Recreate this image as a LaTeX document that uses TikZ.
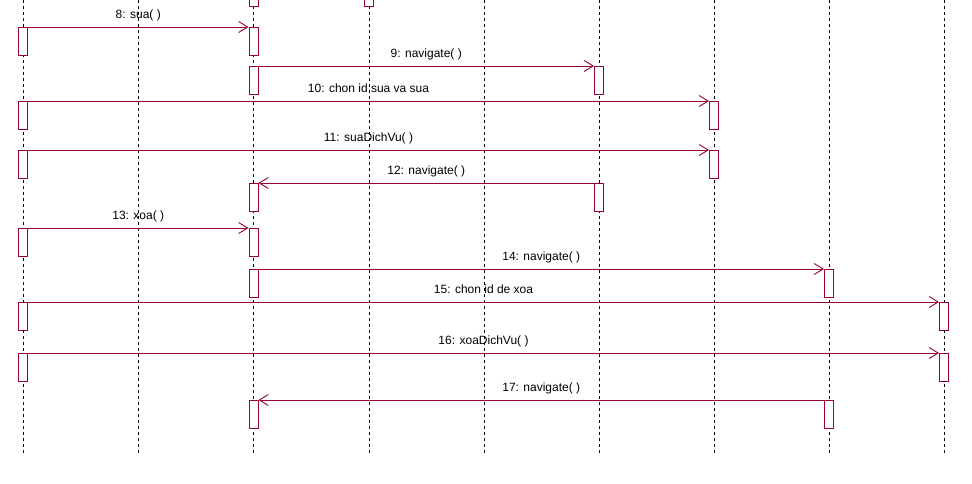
\documentclass[tikz,border=0pt]{standalone}
\usepackage{fontspec}
\setmainfont{Liberation Sans}
\usetikzlibrary{arrows.meta}
\definecolor{umlred}{RGB}{153,0,51}
\begin{document}
\begin{tikzpicture}[x=1pt,y=-1pt,
  lifeline/.style={draw=black,line width=0.9pt,dash pattern=on 3pt off 3pt},
  actbox/.style={draw=umlred,fill=white,line width=1pt,minimum width=9pt,minimum height=28pt,inner sep=0pt,anchor=north},
  msg/.style={draw=umlred,line width=1pt,-{Straight Barb[length=9pt,width=11pt,line width=0.9pt]}},
  lbl/.style={pos=0.5,anchor=base,yshift=9pt,font=\fontsize{12}{14}\selectfont,inner sep=0pt,text=black}]
\useasboundingbox (0,0) rectangle (972,483);
% lifelines
\foreach \i/\x in {1/23,2/138,3/253.5,4/369,5/484,6/599,7/714,8/829,9/944}{
  \coordinate (t\i) at (\x,0);
  \coordinate (b\i) at (\x,455);
  \draw[lifeline] (t\i) -- (b\i);
}
% top boxes continuing from above
\node[actbox] (top3) at (253.5,-22) {};
\node[actbox] (top4) at (369,-22) {};
% activation boxes
\node[actbox] (a1) at (23,27) {};
\node[actbox] (a2) at (253.5,27) {};
\node[actbox] (a3) at (253.5,66) {};
\node[actbox] (a4) at (599,66) {};
\node[actbox] (a5) at (23,101) {};
\node[actbox] (a6) at (714,101) {};
\node[actbox] (a7) at (23,150) {};
\node[actbox] (a8) at (714,150) {};
\node[actbox] (a9) at (599,183) {};
\node[actbox] (a10) at (253.5,183) {};
\node[actbox] (a11) at (23,228) {};
\node[actbox] (a12) at (253.5,228) {};
\node[actbox] (a13) at (253.5,269) {};
\node[actbox] (a14) at (829,269) {};
\node[actbox] (a15) at (23,302) {};
\node[actbox] (a16) at (944,302) {};
\node[actbox] (a17) at (23,353) {};
\node[actbox] (a18) at (944,353) {};
\node[actbox] (a19) at (829,400) {};
\node[actbox] (a20) at (253.5,400) {};
% messages
\draw[msg] (a1.north east) -- node[lbl]{8: sua( )} (a2.north west);
\draw[msg] (a3.north east) -- node[lbl]{9: navigate( )} (a4.north west);
\draw[msg] (a5.north east) -- node[lbl]{10: chon id sua va sua} (a6.north west);
\draw[msg] (a7.north east) -- node[lbl]{11: suaDichVu( )} (a8.north west);
\draw[msg] (a9.north west) -- node[lbl]{12: navigate( )} (a10.north east);
\draw[msg] (a11.north east) -- node[lbl]{13: xoa( )} (a12.north west);
\draw[msg] (a13.north east) -- node[lbl]{14: navigate( )} (a14.north west);
\draw[msg] (a15.north east) -- node[lbl]{15: chon id de xoa} (a16.north west);
\draw[msg] (a17.north east) -- node[lbl]{16: xoaDichVu( )} (a18.north west);
\draw[msg] (a19.north west) -- node[lbl]{17: navigate( )} (a20.north east);
\end{tikzpicture}
\end{document}
